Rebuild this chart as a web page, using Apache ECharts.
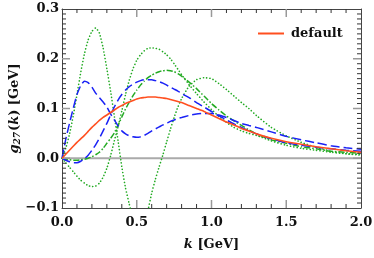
<!DOCTYPE html>
<html>
<head>
<meta charset="utf-8">
<script src="https://cdn.jsdelivr.net/npm/echarts@6/dist/echarts.min.js"></script>
<style>
html,body{margin:0;padding:0;background:#fff;}
#chart{width:374px;height:258px;}
</style>
</head>
<body>
<div id="chart"></div>
<script>
const kValues = [0, 0.025, 0.05, 0.075, 0.1, 0.125, 0.15, 0.175, 0.2, 0.225, 0.25, 0.275, 0.3, 0.325, 0.35, 0.375, 0.4, 0.425, 0.45, 0.475, 0.5, 0.525, 0.55, 0.575, 0.6, 0.625, 0.65, 0.675, 0.7, 0.725, 0.75, 0.775, 0.8, 0.85, 0.9, 0.95, 1.0, 1.05, 1.1, 1.15, 1.2, 1.25, 1.3, 1.4, 1.5, 1.6, 1.7, 1.8, 1.9, 2.0];

const defaultVals = [0, .008, .016, .024, .032, .039, .046, .054, .062, .069, .076, .082, .087, .092, .097, .102, .106, .110, .113, .116, .119, .121, .122, .123, .123, .123, .122, .121, .120, .118, .116, .114, .112, .106, .100, .094, .087, .080, .073, .067, .060, .055, .049, .040, .033, .028, .023, .019, .015, .012];

const blueA = [0, .038, .070, .100, .128, .146, .155, .152, .143, .131, .122, .113, .103, .089, .077, .065, .055, .049, .045, .043, .042, .043, .046, .050, .055, .059, .063, .067, .070, .074, .077, .080, .082, .086, .089, .090, .090, .087, .082, .076, .070, .066, .062, .053, .044, .037, .031, .025, .021, .018];

const blueB = [0, -.004, -.007, -.009, -.009, -.006, -.001, .006, .016, .027, .040, .055, .070, .087, .103, .117, .128, .137, .144, .149, .153, .156, .158, .158, .158, .156, .154, .151, .147, .143, .139, .135, .130, .122, .112, .103, .094, .085, .077, .069, .062, .055, .049, .039, .031, .026, .022, .019, .016, .014];

const greenDot1 = [0, .020, .048, .085, .128, .172, .210, .238, .255, .262, .252, .222, .180, .135, .085, .035, -.017, -.060, -.092, -.120, -.140, -.148, -.138, -.105, -.070, -.042, -.017, .007, .033, .058, .082, .103, .120, .145, .158, .162, .160, .150, .138, .125, .112, .100, .086, .062, .045, .032, .022, .014, .009, .006];

const greenDot2 = [0, -.009, -.018, -.027, -.036, -.044, -.050, -.055, -.057, -.056, -.050, -.038, -.020, .005, .035, .063, .095, .128, .157, .180, .197, .208, .216, .221, .222, .221, .219, .214, .208, .200, .190, .179, .168, .148, .130, .113, .098, .084, .072, .062, .055, .050, .046, .035, .026, .020, .016, .012, .009, .008];

const greenDashDot = [0, -.002, -.003, -.004, -.004, -.003, -.002, .000, .003, .007, .012, .020, .030, .040, .051, .066, .083, .099, .113, .126, .137, .147, .155, .162, .167, .171, .174, .176, .177, .176, .174, .170, .165, .153, .140, .125, .110, .097, .085, .075, .066, .057, .049, .037, .030, .023, .019, .014, .012, .010];

// axis tick labels
const xTicks = [0, 0.5, 1.0, 1.5, 2.0];
const yTicks = [-0.1, 0.0, 0.1, 0.2, 0.3];
const xMinorStep = 0.1;   // 5 minor divisions per major x step
const yMinorStep = 0.01;  // 10 minor divisions per major y step

const pairs = vals => kValues.map((k, i) => [k, vals[i]]);

const FONT = 'DejaVu Serif';
const RED = '#ff4f1f', BLUE = '#1a22f5', GREEN = '#22aa22';
const GRID = {left: 62, right: 13, top: 9, bottom: 50};
const W = 374, H = 258;

const xMin = xTicks[0], xMax = xTicks[xTicks.length - 1];
const yMin = yTicks[0], yMax = yTicks[yTicks.length - 1];
const xPerPx = (xMax - xMin) / (W - GRID.left - GRID.right);
const yPerPx = (yMax - yMin) / (H - GRID.top - GRID.bottom);

// one small line series per inner tick mark (major: grey, long; minor: dark, short)
const tickSeries = [];
const nx = Math.round((xMax - xMin) / xMinorStep), ny = Math.round((yMax - yMin) / yMinorStep);
for (let i = 1; i < nx; i++) {
  const v = +(xMin + i * xMinorStep).toFixed(3), major = i % 5 === 0, d = (major ? 8 : 4) * yPerPx;
  const st = major ? {color: '#999', width: 1.5} : {color: '#333', width: 1};
  tickSeries.push({data: [[v, yMin], [v, yMin + d]], lineStyle: st});
  tickSeries.push({data: [[v, yMax], [v, yMax - d]], lineStyle: Object.assign({}, st)});
}
for (let i = 1; i < ny; i++) {
  const v = +(yMin + i * yMinorStep).toFixed(3), major = i % 10 === 0, d = (major ? 8 : 4) * xPerPx;
  const st = major ? {color: '#999', width: 1.5} : {color: '#333', width: 1};
  tickSeries.push({data: [[xMin, v], [xMin + d, v]], lineStyle: st});
  tickSeries.push({data: [[xMax, v], [xMax - d, v]], lineStyle: Object.assign({}, st)});
}

function xAxisDef(pos, labels) {
  return {
    type: 'value', position: pos, min: xMin, max: xMax, interval: 0.5,
    axisLine: {show: true, onZero: false, lineStyle: {color: '#444', width: 1}},
    axisTick: {show: false},
    splitLine: {show: false},
    axisLabel: {show: labels, formatter: v => v.toFixed(1), fontFamily: FONT, fontWeight: 'bold', fontSize: 13, color: '#111', margin: 8},
    name: labels ? '{i|k} [GeV]' : '',
    nameLocation: 'middle', nameGap: 30,
    nameTextStyle: {fontFamily: FONT, fontWeight: 'bold', fontSize: 13, color: '#111',
      rich: {i: {fontFamily: FONT, fontWeight: 'bold', fontStyle: 'italic', fontSize: 13, color: '#111'}}}
  };
}
function yAxisDef(pos, labels) {
  return {
    type: 'value', position: pos, min: yMin, max: yMax, interval: 0.1,
    axisLine: {show: true, onZero: false, lineStyle: {color: '#444', width: 1}},
    axisTick: {show: false},
    splitLine: {show: false},
    axisLabel: {show: labels, formatter: v => (v < -1e-9 ? '\u2212' + Math.abs(v).toFixed(1) : Math.abs(v).toFixed(1)),
      fontFamily: FONT, fontWeight: 'bold', fontSize: 13, color: '#111', margin: 3},
    name: labels ? '{i|g}{s|27}{n|(}{i|k}{n|) [GeV]}' : '',
    nameLocation: 'middle', nameGap: 40, nameRotate: 90, nameMoveOverlap: false,
    nameTextStyle: {fontFamily: FONT, fontWeight: 'bold', fontSize: 13, color: '#111',
      rich: {
        i: {fontFamily: FONT, fontWeight: 'bold', fontStyle: 'italic', fontSize: 13, color: '#111'},
        s: {fontFamily: FONT, fontWeight: 'bold', fontStyle: 'italic', fontSize: 9, color: '#111', padding: [6, 1, 0, 0]},
        n: {fontFamily: FONT, fontWeight: 'bold', fontSize: 13, color: '#111'}
      }}
  };
}

const chart = echarts.init(document.getElementById('chart'), null, {renderer: 'canvas'});
const lineBase = {type: 'line', showSymbol: false, smooth: 0.15, clip: true, animation: false};
const DOT = {width: 1.6, type: [0.1, 3.2], cap: 'round', color: GREEN};

const curveSeries = [
  Object.assign({}, lineBase, {name: 'zero', data: [[xMin, 0], [xMax, 0]], smooth: false, lineStyle: {color: '#aaa', width: 2}, z: 1}),
  Object.assign({}, lineBase, {name: 'gdot1', data: pairs(greenDot1), lineStyle: Object.assign({}, DOT)}),
  Object.assign({}, lineBase, {name: 'gdot2', data: pairs(greenDot2), lineStyle: Object.assign({}, DOT)}),
  Object.assign({}, lineBase, {name: 'gdashdot', data: pairs(greenDashDot), lineStyle: {color: GREEN, width: 1.5, type: [6, 2, 1.5, 2]}}),
  Object.assign({}, lineBase, {name: 'blueA', data: pairs(blueA), lineStyle: {color: BLUE, width: 1.5, type: [9, 4]}}),
  Object.assign({}, lineBase, {name: 'blueB', data: pairs(blueB), lineStyle: {color: BLUE, width: 1.5, type: [9, 4]}}),
  Object.assign({}, lineBase, {name: 'default', data: pairs(defaultVals), color: RED, lineStyle: {color: RED, width: 1.6}, z: 5})
];
const markSeries = tickSeries.map((t, i) => ({
  type: 'line', name: 'tick' + i, data: t.data, lineStyle: t.lineStyle,
  showSymbol: false, smooth: false, clip: false, silent: true, animation: false, z: 4
}));

chart.setOption({
  animation: false,
  backgroundColor: '#fff',
  grid: Object.assign({containLabel: false, outerBoundsMode: 'none'}, GRID),
  xAxis: [xAxisDef('bottom', true), xAxisDef('top', false)],
  yAxis: [yAxisDef('left', true), yAxisDef('right', false)],
  legend: {
    data: ['default'], left: 258, top: 27, padding: 0, icon: 'rect', itemWidth: 26, itemHeight: 2,
    textStyle: {fontFamily: FONT, fontWeight: 'bold', fontSize: 13, color: '#111', padding: [0, 0, 0, 2]}
  },
  series: markSeries.concat(curveSeries)
});
</script>
</body>
</html>
